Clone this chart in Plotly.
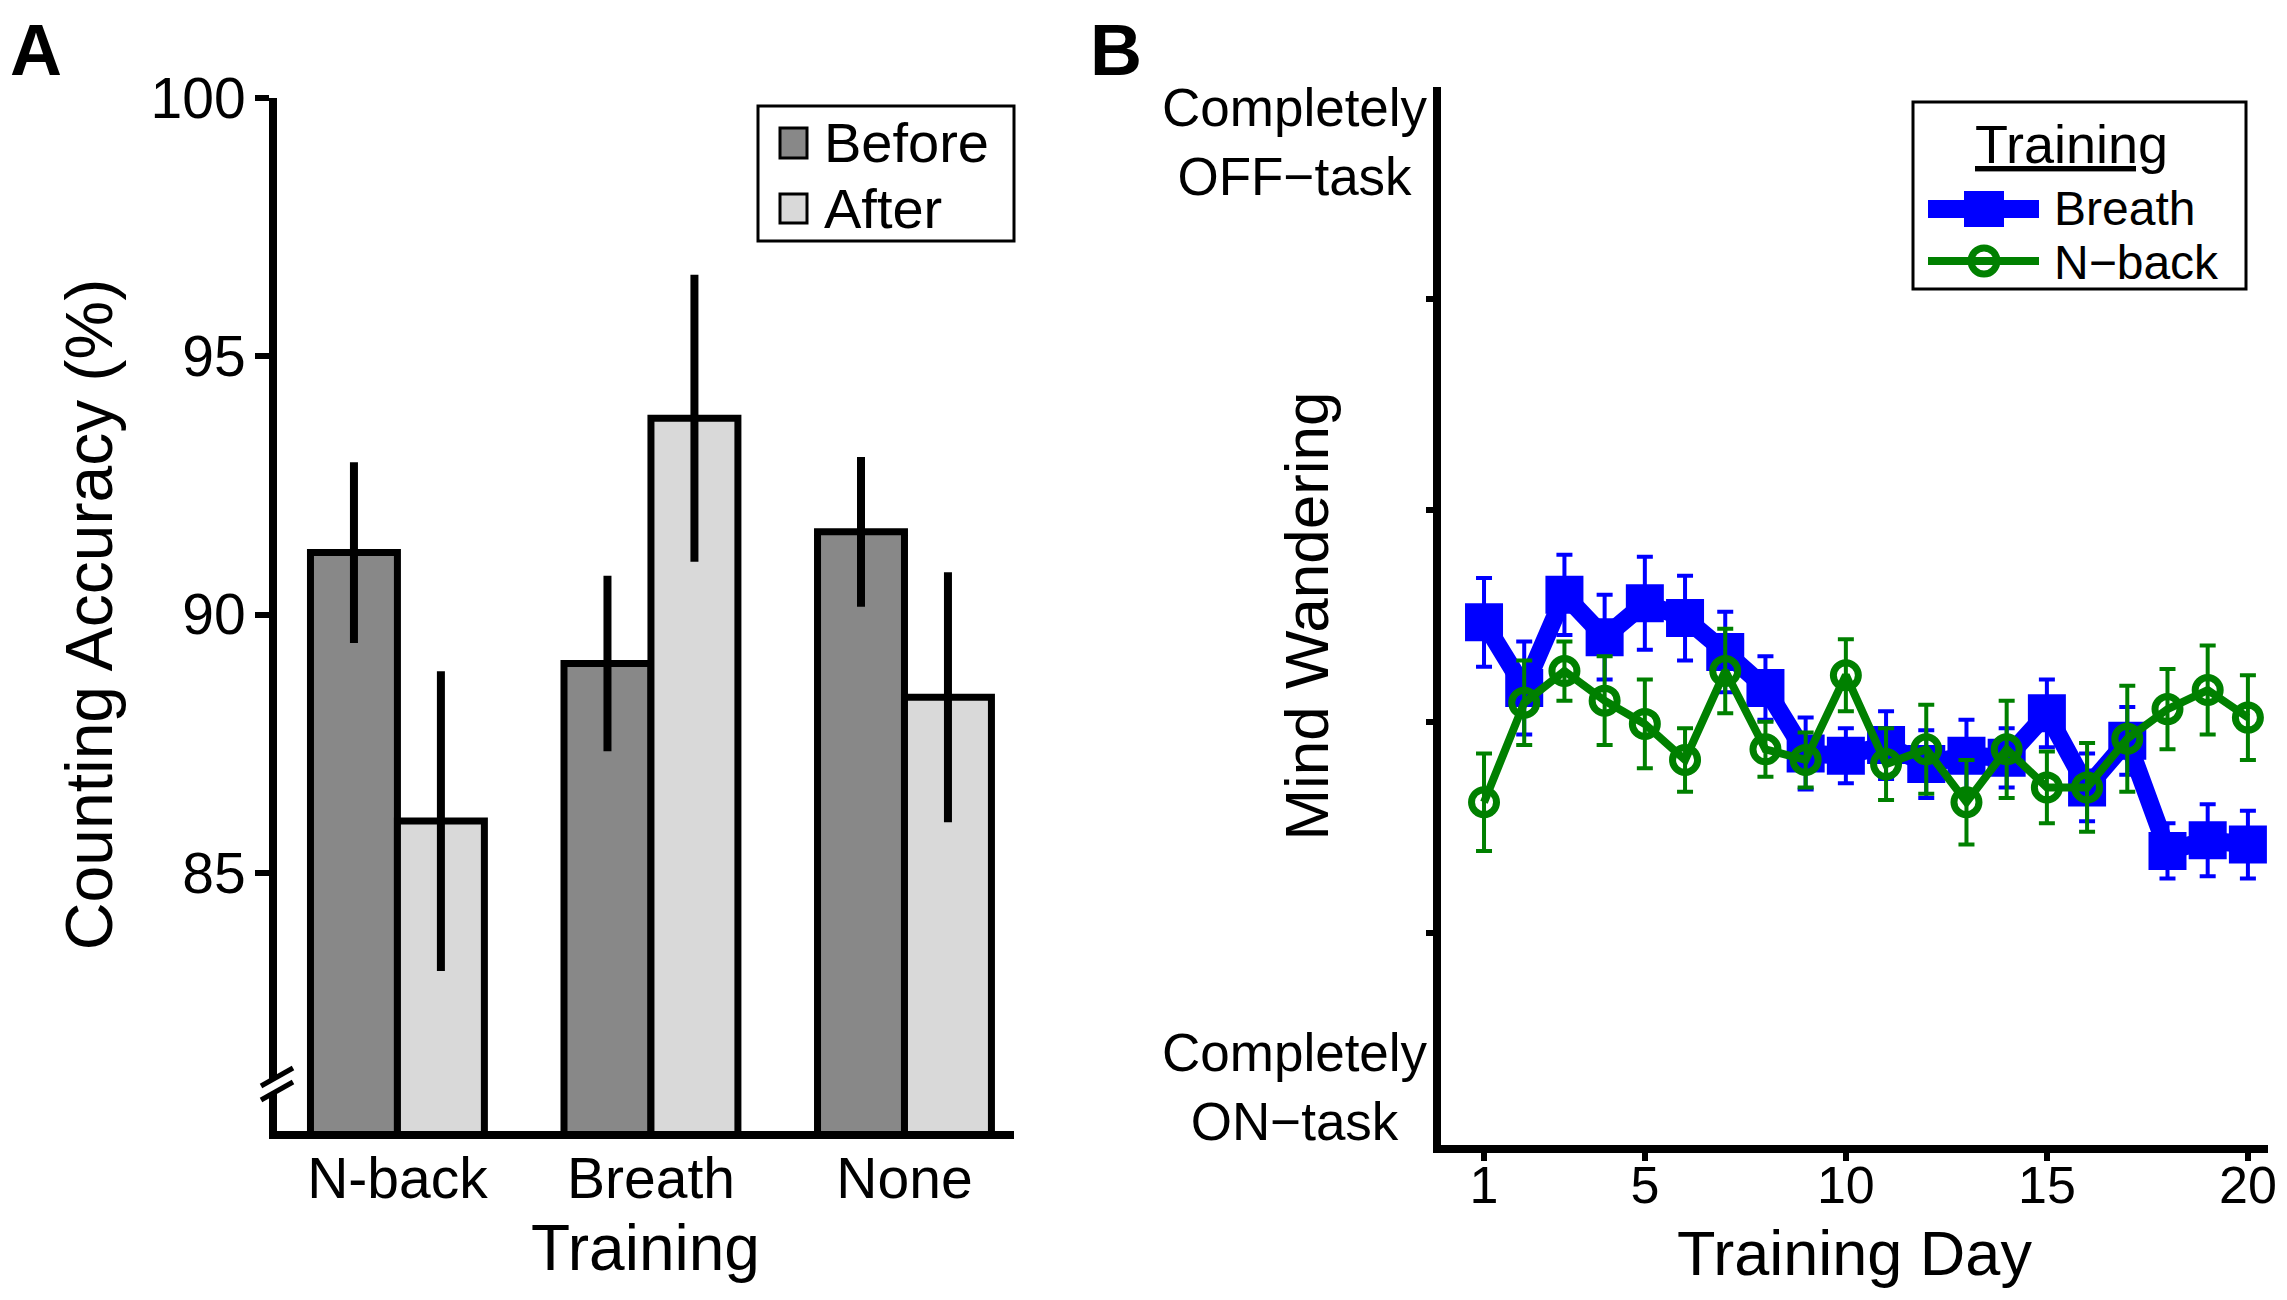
import plotly.graph_objects as go

# page body keeps an 8px margin, so the figure is shrunk to fit the window
OFF = 8
W, H = 2287 - OFF, 1300 - OFF
FONT = "Liberation Sans"

# panel A data
training = ["N-back", "Breath", "None"]
before = [91.2, 89.05, 91.6]
before_err = [1.75, 1.7, 1.45]
after = [86.0, 93.8, 88.4]
after_err = [2.9, 2.78, 2.42]

# panel B data
days = [1, 2, 3, 4, 5, 6, 7, 8, 9, 10, 11, 12, 13, 14, 15, 16, 17, 18, 19, 20]
breath = [3.47, 3.16, 3.60, 3.40, 3.56, 3.49, 3.33, 3.16, 2.85, 2.84,
          2.89, 2.80, 2.84, 2.83, 3.04, 2.69, 2.91, 2.39, 2.44, 2.42]
breath_err = [0.21, 0.22, 0.19, 0.20, 0.22, 0.20, 0.19, 0.15, 0.17, 0.13,
              0.16, 0.16, 0.17, 0.14, 0.16, 0.16, 0.16, 0.13, 0.17, 0.16]
nback = [2.62, 3.09, 3.24, 3.10, 2.99, 2.82, 3.24, 2.87, 2.82, 3.22,
         2.80, 2.87, 2.62, 2.87, 2.69, 2.69, 2.92, 3.06, 3.15, 3.02]
nback_err = [0.23, 0.20, 0.14, 0.21, 0.21, 0.15, 0.20, 0.13, 0.13, 0.17,
             0.17, 0.21, 0.20, 0.23, 0.17, 0.21, 0.25, 0.19, 0.21, 0.20]


def px(x):  # window pixel -> paper x
    return (x - OFF) / W


def py(y):  # window pixel -> paper y
    return 1 - (y - OFF) / H


fig = go.Figure()

fig.add_trace(go.Bar(x=training, y=before, name="Before", marker_color="#888888",
                     marker_line=dict(color="black", width=7),
                     error_y=dict(type="data", array=before_err, color="black", thickness=8, width=0),
                     xaxis="x", yaxis="y", showlegend=False))
fig.add_trace(go.Bar(x=training, y=after, name="After", marker_color="#D9D9D9",
                     marker_line=dict(color="black", width=7),
                     error_y=dict(type="data", array=after_err, color="black", thickness=8, width=0),
                     xaxis="x", yaxis="y", showlegend=False))

fig.add_trace(go.Scatter(x=days, y=breath, name="Breath", mode="lines+markers",
                         line=dict(color="#0000FF", width=18),
                         marker=dict(symbol="square", size=38, color="#0000FF"),
                         error_y=dict(type="data", array=breath_err, color="#0000FF", thickness=4, width=8),
                         xaxis="x2", yaxis="y2", showlegend=False))
fig.add_trace(go.Scatter(x=days, y=nback, name="N−back", mode="lines+markers",
                         line=dict(color="#008000", width=8),
                         marker=dict(symbol="circle-open", size=25, color="#008000", line=dict(width=7)),
                         error_y=dict(type="data", array=nback_err, color="#008000", thickness=4, width=8),
                         xaxis="x2", yaxis="y2", showlegend=False))

axis_common = dict(showgrid=False, zeroline=False, showline=True, linecolor="black",
                   automargin=False, tickcolor="black", tickfont=dict(family=FONT, color="black"))

fig.update_layout(
    width=W, height=H, margin=dict(l=0, r=0, t=0, b=0, autoexpand=False),
    paper_bgcolor="white", plot_bgcolor="white",
    font=dict(family=FONT, color="black"),
    barmode="group", bargap=0.314, bargroupgap=0,
    xaxis=dict(axis_common, domain=[px(277), px(1014)], range=[-0.475, 2.432], linewidth=8,
               ticks="", tickfont_size=57, ticklabelstandoff=-9,
               title=dict(text="Training", font=dict(size=64), standoff=19), anchor="y"),
    yaxis=dict(axis_common, domain=[py(1131), py(98)], range=[80, 100], linewidth=8,
               tickvals=[85, 90, 95, 100], ticks="outside", ticklen=14, tickwidth=6,
               tickfont_size=57, ticklabelstandoff=-2,
               title=dict(text="Counting Accuracy (%)", font=dict(size=66), standoff=19), anchor="x"),
    xaxis2=dict(axis_common, domain=[px(1441), px(2268)], range=[-0.07, 20.5], linewidth=8,
                tickvals=[1, 5, 10, 15, 20], ticks="outside", ticklen=8, tickwidth=6,
                tickfont_size=52, ticklabelstandoff=-20,
                title=dict(text="Training Day", font=dict(size=63), standoff=20), anchor="y2"),
    yaxis2=dict(axis_common, domain=[py(1145), py(87)], range=[1, 6], linewidth=8,
                tickvals=[2, 3, 4, 5], ticks="outside", ticklen=7, tickwidth=6,
                showticklabels=False,
                title=dict(text="Mind Wandering", font=dict(size=62), standoff=80), anchor="x2"),
)

shapes = []
annotations = []

# axis break on panel A y axis
shapes.append(dict(type="path", xref="paper", yref="paper", layer="above",
                   path=f"M {px(262)},{py(1086)} L {px(292)},{py(1068)} L {px(293)},{py(1082)} L {px(263)},{py(1100)} Z",
                   fillcolor="white", line=dict(width=0)))
for y0, y1 in [(1086, 1068), (1100, 1082)]:
    shapes.append(dict(type="line", xref="paper", yref="paper", layer="above",
                       x0=px(261), y0=py(y0), x1=px(293), y1=py(y1),
                       line=dict(color="black", width=5)))

# panel A legend
shapes.append(dict(type="rect", xref="paper", yref="paper", layer="above",
                   x0=px(758), x1=px(1014), y0=py(241), y1=py(106),
                   fillcolor="white", line=dict(color="black", width=3)))
for (top, bot), col, label, yc in [((128, 158), "#888888", "Before", 143),
                                   ((194, 223), "#D9D9D9", "After", 208)]:
    shapes.append(dict(type="rect", xref="paper", yref="paper", layer="above",
                       x0=px(780), x1=px(807), y0=py(bot), y1=py(top),
                       fillcolor=col, line=dict(color="black", width=3)))
    annotations.append(dict(text=label, x=px(822), y=py(yc), xref="paper", yref="paper",
                            xanchor="left", yanchor="middle", showarrow=False,
                            font=dict(size=56, family=FONT)))

# panel B legend
shapes.append(dict(type="rect", xref="paper", yref="paper", layer="above",
                   x0=px(1913), x1=px(2246), y0=py(289), y1=py(102),
                   fillcolor="white", line=dict(color="black", width=3)))
annotations.append(dict(text="<u>Training</u>", x=px(2071), y=py(144), xref="paper", yref="paper",
                        xanchor="center", yanchor="middle", showarrow=False,
                        font=dict(size=54, family=FONT)))
shapes.append(dict(type="line", xref="paper", yref="paper", layer="above",
                   x0=px(1928), x1=px(2039), y0=py(209), y1=py(209),
                   line=dict(color="#0000FF", width=18)))
shapes.append(dict(type="rect", xref="paper", yref="paper", layer="above",
                   x0=px(1964), x1=px(2004), y0=py(227), y1=py(191),
                   fillcolor="#0000FF", line=dict(width=0)))
shapes.append(dict(type="line", xref="paper", yref="paper", layer="above",
                   x0=px(1928), x1=px(2039), y0=py(261), y1=py(261),
                   line=dict(color="#008000", width=8)))
shapes.append(dict(type="circle", xref="paper", yref="paper", layer="above",
                   x0=px(1971), x1=px(1997), y0=py(274), y1=py(248),
                   line=dict(color="#008000", width=7)))
# tight rows like the original legend: fixed box height keeps the entries apart
for label, yc in [("Breath", 208), ("N−back", 262)]:
    annotations.append(dict(text=label, x=px(2052), y=py(yc), xref="paper", yref="paper",
                            xanchor="left", yanchor="middle", showarrow=False, height=46,
                            font=dict(size=48, family=FONT)))

# panel B y-axis end labels
annotations.append(dict(text="Completely<br>OFF−task", x=px(1430), y=py(142), xref="paper", yref="paper",
                        xanchor="right", yanchor="middle", align="center", showarrow=False,
                        font=dict(size=53, family=FONT)))
annotations.append(dict(text="Completely<br>ON−task", x=px(1430), y=py(1087), xref="paper", yref="paper",
                        xanchor="right", yanchor="middle", align="center", showarrow=False,
                        font=dict(size=53, family=FONT)))

# panel letters
annotations.append(dict(text="<b>A</b>", x=px(8), y=1, xref="paper", yref="paper",
                        xanchor="left", yanchor="top", showarrow=False, font=dict(size=72, family=FONT)))
annotations.append(dict(text="<b>B</b>", x=px(1088), y=1, xref="paper", yref="paper",
                        xanchor="left", yanchor="top", showarrow=False, font=dict(size=72, family=FONT)))

fig.update_layout(shapes=shapes, annotations=annotations)

fig.write_html("out.html")
